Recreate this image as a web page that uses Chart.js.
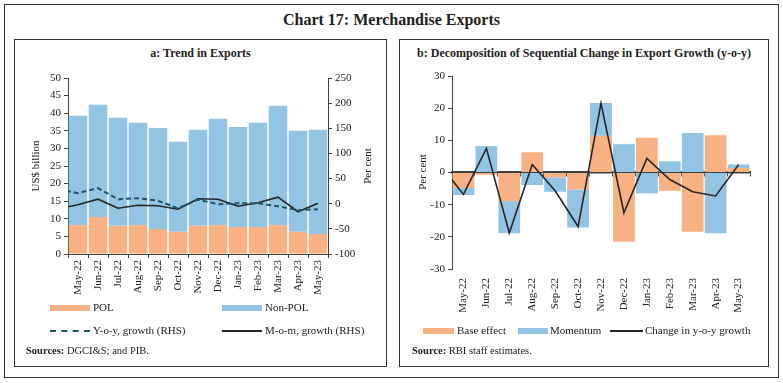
<!DOCTYPE html>
<html>
<head>
<meta charset="utf-8">
<script src="https://cdn.jsdelivr.net/npm/chart.js@4.4.1/dist/chart.umd.min.js"></script>
<style>
  body { margin: 0; background: #fff; font-family: "Liberation Serif", "DejaVu Serif", serif; color: #222; }
  .abs { position: absolute; }
  .box { position: absolute; border: 1px solid #333; box-sizing: border-box; }
  .title { font-weight: bold; white-space: nowrap; }
  .lab { font-size: 11px; white-space: nowrap; }
  .vt { transform: translate(-50%, -50%) rotate(-90deg); font-size: 11px; white-space: nowrap; }
  .sw { position: absolute; height: 6px; }
  .ln { position: absolute; height: 0; }
</style>
</head>
<body>
<div class="box" style="left:4px;top:4px;width:775px;height:374px;"></div>
<div class="abs title" style="left:0;width:783px;top:11px;text-align:center;font-size:16px;">Chart 17: Merchandise Exports</div>

<div class="box" style="left:14px;top:39px;width:373px;height:328px;"></div>
<div class="box" style="left:399px;top:39px;width:370px;height:328px;"></div>

<div class="abs title" style="left:14px;width:373px;top:46px;text-align:center;font-size:12px;">a: Trend in Exports</div>
<div class="abs title" style="left:399px;width:370px;top:46px;text-align:center;font-size:12px;">b: Decomposition of Sequential Change in Export Growth (y-o-y)</div>

<canvas id="chartA" class="abs" style="left:20px;top:64px;"></canvas>
<canvas id="chartB" class="abs" style="left:400px;top:62px;"></canvas>

<div class="abs vt" style="left:35px;top:166px;">US$ billion</div>
<div class="abs vt" style="left:367px;top:166px;">Per cent</div>
<div class="abs vt" style="left:422px;top:172px;">Per cent</div>

<!-- legend a -->
<div class="sw" style="left:50px;top:305px;width:40px;background:#F8B183;"></div>
<div class="abs lab" style="left:93px;top:301px;">POL</div>
<div class="sw" style="left:222px;top:305px;width:40px;background:#93C4E4;"></div>
<div class="abs lab" style="left:265px;top:301px;">Non-POL</div>
<div class="ln" style="left:50px;top:330px;width:40px;border-top:2px dashed #1F5566;"></div>
<div class="abs lab" style="left:93px;top:324px;">Y-o-y, growth (RHS)</div>
<div class="ln" style="left:222px;top:330px;width:40px;border-top:2px solid #262626;"></div>
<div class="abs lab" style="left:265px;top:324px;">M-o-m, growth (RHS)</div>
<div class="abs lab" style="left:26px;top:345px;font-size:10.5px;"><b>Sources:</b> DGCI&amp;S; and PIB.</div>

<!-- legend b -->
<div class="sw" style="left:423px;top:328px;width:31px;background:#F8B183;"></div>
<div class="abs lab" style="left:457px;top:324px;">Base effect</div>
<div class="sw" style="left:518px;top:328px;width:30px;background:#93C4E4;"></div>
<div class="abs lab" style="left:550px;top:324px;">Momentum</div>
<div class="ln" style="left:610px;top:330px;width:33px;border-top:2px solid #262626;"></div>
<div class="abs lab" style="left:645px;top:324px;">Change in y-o-y growth</div>
<div class="abs lab" style="left:412px;top:345px;font-size:10.5px;"><b>Source:</b> RBI staff estimates.</div>

<script>
// Données
const months = ['May-22', 'Jun-22', 'Jul-22', 'Aug-22', 'Sep-22', 'Oct-22', 'Nov-22',
                'Dec-22', 'Jan-23', 'Feb-23', 'Mar-23', 'Apr-23', 'May-23'];
// mois précédent, hors du cadre (seul le bout de ligne coupé est visible)
const prevMonth = 'Apr-22';

// Panel a (US$ billion, % growth on RHS)
const polExports = [8.2, 10.5, 8.0, 8.2, 7.1, 6.3, 8.0, 8.2, 7.7, 7.7, 8.2, 6.3, 5.7];
const nonPolExports = [31.1, 31.9, 30.7, 29.1, 28.7, 25.6, 27.3, 30.2, 28.4, 29.6, 33.9, 28.7, 29.6];
const yoyGrowth = [21, 31, 9, 11, 6, -9, 8, -1, 1, 1, -5, -13, -11];
const momGrowth = [-2, 9, -9, -3, -4, -11, 10, 9, -5, 2, 13, -16, 1];
const prevYoy = 29;
const prevMom = -10;

// Panel b (per cent)
const baseEffect = [-4.8, -0.7, -8.9, 6.3, -1.5, -5.3, 11.4, -21.5, 10.8, -5.7, -18.4, 11.6, 1.4];
const momentum = [-2.2, 8.2, -10.0, -3.9, -4.5, -11.8, 10.2, 8.8, -6.5, 3.5, 12.3, -18.9, 1.1];
const yoyChange = [-6.8, 7.5, -18.8, 2.5, -5.7, -16.8, 21.5, -12.5, 4.4, -2.2, -6.0, -7.3, 2.4];
const prevChange = 2.2;

const ticksA = { left: { min: 0, max: 50, step: 5 }, right: { min: -100, max: 250, step: 50 } };
const ticksB = { min: -30, max: 30, step: 10 };

const colors = {
    pol: '#F8B183',
    nonPol: '#93C4E4',
    yoy: '#1F5566',
    mom: '#262626',
    axis: '#404040',
    text: '#222'
};
const tickFont = { family: 'Liberation Serif', size: 11 };

const allLabels = [prevMonth].concat(months);
const withPrev = (prev, values) => [prev].concat(values);
const barData = (values) => [null].concat(values);

function fixSize(prop, val) {
    return function (scale) { scale[prop] = val; };
}

Chart.defaults.animation = false;
Chart.defaults.color = colors.text;

// ---- Panel a ----
const canvasA = document.getElementById('chartA');
canvasA.width = 362; canvasA.height = 236;
new Chart(canvasA, {
    type: 'bar',
    data: {
        labels: allLabels,
        datasets: [
            { label: 'POL', data: barData(polExports), backgroundColor: colors.pol, stack: 's', order: 2,
              categoryPercentage: 1, barPercentage: 0.93 },
            { label: 'Non-POL', data: barData(nonPolExports), backgroundColor: colors.nonPol, stack: 's', order: 2,
              categoryPercentage: 1, barPercentage: 0.93 },
            { type: 'line', label: 'Y-o-y, growth (RHS)', data: withPrev(prevYoy, yoyGrowth),
              yAxisID: 'y2', borderColor: colors.yoy, borderWidth: 2, borderDash: [5, 3],
              pointRadius: 0, tension: 0, order: 1 },
            { type: 'line', label: 'M-o-m, growth (RHS)', data: withPrev(prevMom, momGrowth),
              yAxisID: 'y2', borderColor: colors.mom, borderWidth: 1.6,
              pointRadius: 0, tension: 0, order: 1 }
        ]
    },
    options: {
        responsive: false,
        layout: { padding: { top: 14 } },
        plugins: { legend: { display: false }, tooltip: { enabled: false } },
        scales: {
            x: {
                stacked: true,
                min: months[0],
                afterFit: fixSize('height', 46),
                grid: { drawOnChartArea: false, offset: true, tickLength: 4, color: colors.axis },
                border: { color: colors.axis },
                ticks: { autoSkip: false, maxRotation: 90, minRotation: 90, font: tickFont, padding: 2 }
            },
            y: {
                stacked: true,
                min: ticksA.left.min, max: ticksA.left.max,
                afterFit: fixSize('width', 48),
                grid: { drawOnChartArea: false, tickLength: 4, color: colors.axis },
                border: { color: colors.axis },
                ticks: { stepSize: ticksA.left.step, font: tickFont, padding: 3 }
            },
            y2: {
                position: 'right',
                min: ticksA.right.min, max: ticksA.right.max,
                afterFit: fixSize('width', 54),
                grid: { drawOnChartArea: false, tickLength: 4, color: colors.axis },
                border: { color: colors.axis },
                ticks: { stepSize: ticksA.right.step, font: tickFont, padding: 3 }
            }
        }
    }
});

// ---- Panel b ----
const canvasB = document.getElementById('chartB');
canvasB.width = 365; canvasB.height = 262;
new Chart(canvasB, {
    type: 'bar',
    data: {
        labels: allLabels,
        datasets: [
            { label: 'Base effect', data: barData(baseEffect), backgroundColor: colors.pol, stack: 's', order: 2,
              categoryPercentage: 1, barPercentage: 0.95 },
            { label: 'Momentum', data: barData(momentum), backgroundColor: colors.nonPol, stack: 's', order: 2,
              categoryPercentage: 1, barPercentage: 0.95 },
            { type: 'line', label: 'Change in y-o-y growth', data: withPrev(prevChange, yoyChange),
              borderColor: colors.mom, borderWidth: 1.6,
              pointRadius: 0, tension: 0, order: 1 }
        ]
    },
    options: {
        responsive: false,
        layout: { padding: { top: 14, right: 15 } },
        plugins: { legend: { display: false }, tooltip: { enabled: false } },
        scales: {
            x: {
                stacked: true,
                min: months[0],
                afterFit: fixSize('height', 55),
                grid: { display: false },
                border: { display: false },
                ticks: { autoSkip: false, maxRotation: 90, minRotation: 90, font: tickFont, padding: 1 }
            },
            x0: {
                type: 'category',
                labels: allLabels,
                min: months[0],
                offset: true,
                position: { y: 0 },
                grid: { drawOnChartArea: false, offset: true, tickLength: 3, color: colors.axis },
                border: { color: colors.axis, width: 2.5 },
                ticks: { display: false }
            },
            y: {
                stacked: true,
                min: ticksB.min, max: ticksB.max,
                afterFit: fixSize('width', 52),
                grid: { drawOnChartArea: false, tickLength: 4, color: colors.axis },
                border: { color: colors.axis },
                ticks: { stepSize: ticksB.step, font: tickFont, padding: 3 }
            }
        }
    }
});
</script>
</body>
</html>
